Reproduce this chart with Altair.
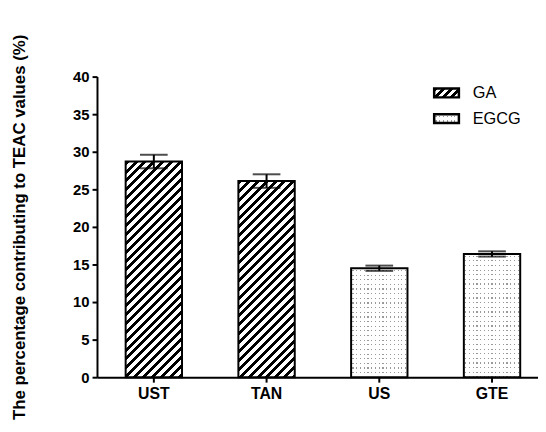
import altair as alt
import pandas as pd

# ---- data ----
categories = ["UST", "TAN", "US", "GTE"]
series = ["GA", "GA", "EGCG", "EGCG"]
values = [28.7, 26.1, 14.5, 16.4]
errors = [0.9, 0.9, 0.35, 0.35]
y_ticks = [0, 5, 10, 15, 20, 25, 30, 35, 40]
legend_series = ["GA", "EGCG"]

W, H = 446, 304
YMAX = 40
PAD_INNER, PAD_OUTER, ALIGN = 0.5, 0.206, 0.617
STEP = W / (len(categories) - PAD_INNER + 2 * PAD_OUTER)
BAR_W = STEP * (1 - PAD_INNER)

FONT = "Liberation Sans"


def hatch(w, h, period=9.0, frac=0.45):
    """Diagonal '/' stripes via a hard-stop linear gradient (bbox units)."""
    k = (w + h) / (w * w + h * h)
    n = (w + h) / period
    stops = []
    i = 0
    while i < n:
        a = i / n
        b = min((i + frac) / n, 1)
        c = min((i + 1) / n, 1)
        stops += [
            {"offset": a, "color": "black"},
            {"offset": b, "color": "black"},
            {"offset": b, "color": "white"},
            {"offset": c, "color": "white"},
        ]
        i += 1
    return {"gradient": "linear", "x1": 0, "y1": 0, "x2": k * w, "y2": k * h, "stops": stops}


def stripes(length, period, frac, on, off, vertical):
    n = length / period
    stops = []
    i = 0
    while i < n:
        a = i / n
        s = min((i + 0.35) / n, 1)
        b = min((i + 0.35 + frac) / n, 1)
        c = min((i + 1) / n, 1)
        stops += [
            {"offset": a, "color": off},
            {"offset": s, "color": off},
            {"offset": s, "color": on},
            {"offset": b, "color": on},
            {"offset": b, "color": off},
            {"offset": c, "color": off},
        ]
        i += 1
    if vertical:
        return {"gradient": "linear", "x1": 0, "y1": 0, "x2": 0, "y2": 1, "stops": stops}
    return {"gradient": "linear", "x1": 0, "y1": 0, "x2": 1, "y2": 0, "stops": stops}


def dot_cols(w):
    return stripes(w, 3.8, 0.3, "#999999", "white", vertical=False)


def dot_rows(h):
    return stripes(h, 4.7, 0.26, "rgba(255,255,255,0)", "white", vertical=True)


df = pd.DataFrame({
    "cat": categories,
    "series": series,
    "value": values,
    "lo": [v - e for v, e in zip(values, errors)],
    "hi": [v + e for v, e in zip(values, errors)],
})

x_enc = alt.X(
    "cat:N",
    sort=categories,
    scale=alt.Scale(domain=categories, paddingInner=PAD_INNER, paddingOuter=PAD_OUTER, align=ALIGN),
    axis=alt.Axis(title="", labelAngle=0, labelFontSize=16, labelPadding=4),
)
y_scale = alt.Scale(domain=[0, YMAX], nice=False)
y_axis = alt.Axis(
    title="The percentage contributing to TEAC values (%)",
    values=y_ticks,
    tickCount=len(y_ticks),
    labelOverlap=False,
    labelFontSize=15,
    labelPadding=3,
    titleFontSize=17,
    titleFont=FONT,
    titleFontWeight="bold",
    titleX=-73,
    titleY=H / 2,
    titleBaseline="alphabetic",
    titleAngle=270,
    grid=False,
)
y_enc = alt.Y("value:Q", scale=y_scale, axis=y_axis)
y_lo = alt.Y("lo:Q", scale=y_scale, axis=y_axis)
y_hi = alt.Y("hi:Q", scale=y_scale, axis=y_axis)

base = alt.Chart(df)
layers = []
for cat, ser, v in zip(categories, series, values):
    h = v / YMAX * H
    sub = base.transform_filter(alt.datum.cat == cat)
    if ser == "GA":
        layers.append(sub.mark_bar(fill=hatch(BAR_W, h), strokeWidth=0).encode(x=x_enc, y=y_enc))
    else:
        layers.append(sub.mark_bar(fill=dot_cols(BAR_W), strokeWidth=0).encode(x=x_enc, y=y_enc))
        layers.append(sub.mark_bar(fill=dot_rows(h), strokeWidth=0).encode(x=x_enc, y=y_enc))

outline = base.mark_bar(fill="white", fillOpacity=0, stroke="black", strokeWidth=2).encode(x=x_enc, y=y_enc)
err_rule = base.mark_rule(color="black", strokeWidth=2).encode(x=x_enc, y=y_lo, y2="hi:Q")
cap_hi = base.mark_tick(color="black", thickness=2, size=28).encode(x=x_enc, y=y_hi)
cap_lo = base.mark_tick(color="black", thickness=2, size=28).encode(x=x_enc, y=y_lo)

# ---- legend (manual, to carry the patterns) ----
leg_df = pd.DataFrame({"s": legend_series})
LX0, LX1 = 341, 366
LY = [12, 38]
SW_H = 9
leg_layers = []
for i, s in enumerate(legend_series):
    d = alt.Chart(leg_df).transform_filter(alt.datum.s == s)
    pos = dict(x=alt.value(LX0), x2=alt.value(LX1), y=alt.value(LY[i]), y2=alt.value(LY[i] + SW_H))
    if s == "GA":
        leg_layers.append(d.mark_rect(fill=hatch(LX1 - LX0, SW_H, period=8.0, frac=0.5)).encode(**pos))
    else:
        leg_layers.append(d.mark_rect(fill=dot_cols(LX1 - LX0)).encode(**pos))
        leg_layers.append(d.mark_rect(fill=dot_rows(SW_H)).encode(**pos))
    leg_layers.append(d.mark_rect(fill="white", fillOpacity=0, stroke="black", strokeWidth=2.5).encode(**pos))
    leg_layers.append(
        d.mark_text(align="left", baseline="middle", font=FONT, fontSize=16.5, color="black").encode(
            text="s:N", x=alt.value(LX1 + 14), y=alt.value(LY[i] + SW_H / 2)
        )
    )

chart = alt.layer(*layers, outline, err_rule, cap_lo, cap_hi, *leg_layers).properties(
    width=W,
    height=H,
    padding={"left": 90, "top": 67, "right": 0, "bottom": 50},
    autosize=alt.AutoSizeParams(type="none"),
).configure_view(stroke=None).configure_axis(
    domainColor="black",
    domainWidth=2,
    tickColor="black",
    tickWidth=2,
    tickSize=5,
    labelFont=FONT,
    labelFontWeight="bold",
    labelColor="black",
    titleColor="black",
)

chart.save("out.html", embed_options={"renderer": "svg", "actions": False})
